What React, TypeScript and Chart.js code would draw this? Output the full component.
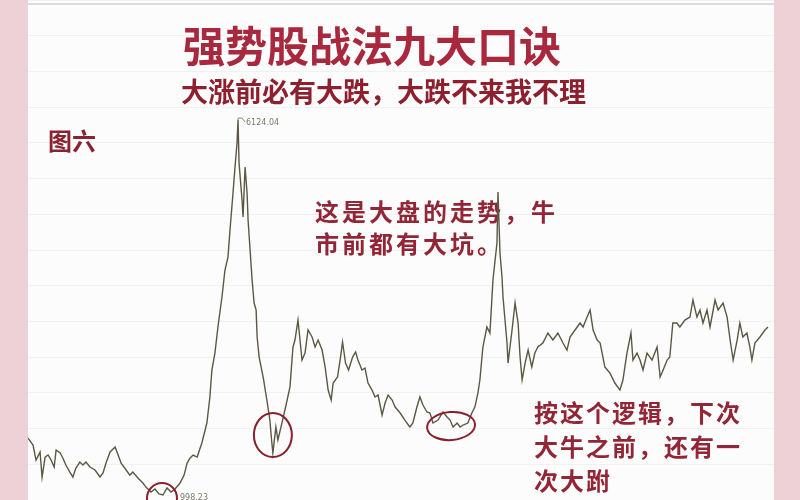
import React, { useEffect, useRef } from "react";
import { Chart, registerables } from "chart.js";

Chart.register(...registerables);

// Shanghai Composite index (decimal year, index level)
const years = [
  2001.52, 2001.67, 2001.76, 2001.88, 2001.94, 2002.03, 2002.12, 2002.21, 2002.30, 2002.36,
  2002.48, 2002.56, 2002.65, 2002.77, 2002.86, 2002.95, 2003.07, 2003.16, 2003.25, 2003.37,
  2003.52, 2003.67, 2003.76, 2003.85, 2003.97, 2004.12, 2004.21, 2004.30, 2004.45, 2004.56,
  2004.65, 2004.80, 2004.95, 2005.04, 2005.19, 2005.31, 2005.43, 2005.55, 2005.67, 2005.79,
  2005.91, 2006.06, 2006.18, 2006.27, 2006.36, 2006.45, 2006.57, 2006.71, 2006.86, 2006.95,
  2007.01, 2007.10, 2007.19, 2007.31, 2007.40, 2007.49, 2007.55, 2007.64, 2007.70, 2007.76,
  2007.79, 2007.82, 2007.91, 2007.94, 2008.00, 2008.06, 2008.09, 2008.15, 2008.21, 2008.27,
  2008.33, 2008.36, 2008.42, 2008.54, 2008.65, 2008.74, 2008.80, 2008.83, 2008.92, 2008.98,
  2009.10, 2009.19, 2009.34, 2009.43, 2009.49, 2009.58, 2009.70, 2009.79, 2009.88, 2010.00,
  2010.09, 2010.18, 2010.30, 2010.39, 2010.48, 2010.57, 2010.63, 2010.76, 2010.85, 2010.91,
  2011.00, 2011.09, 2011.21, 2011.30, 2011.37, 2011.49, 2011.58, 2011.67, 2011.79, 2011.88,
  2011.97, 2012.09, 2012.18, 2012.27, 2012.39, 2012.48, 2012.63, 2012.77, 2012.92, 2013.01,
  2013.13, 2013.22, 2013.31, 2013.43, 2013.52, 2013.61, 2013.76, 2013.91, 2014.03, 2014.12,
  2014.21, 2014.33, 2014.42, 2014.51, 2014.65, 2014.77, 2014.86, 2014.95, 2015.01, 2015.10,
  2015.22, 2015.31, 2015.40, 2015.52, 2015.55, 2015.61, 2015.67, 2015.70, 2015.76, 2015.82,
  2015.85, 2015.97, 2016.06, 2016.15, 2016.21, 2016.27, 2016.36, 2016.45, 2016.56, 2016.65,
  2016.74, 2016.89, 2017.04, 2017.19, 2017.34, 2017.49, 2017.61, 2017.70, 2017.85, 2018.00,
  2018.09, 2018.21, 2018.30, 2018.39, 2018.51, 2018.60, 2018.74, 2018.89, 2019.04, 2019.19,
  2019.28, 2019.40, 2019.52, 2019.58, 2019.70, 2019.79, 2019.88, 2020.00, 2020.15, 2020.30,
  2020.39, 2020.48, 2020.60, 2020.68, 2020.77, 2020.89, 2020.98, 2021.13, 2021.28, 2021.37,
  2021.49, 2021.58, 2021.67, 2021.79, 2021.88, 2022.03, 2022.12, 2022.27, 2022.39, 2022.48,
  2022.57, 2022.69, 2022.77, 2022.86, 2022.98, 2023.07, 2023.13, 2023.22, 2023.37, 2023.52,
  2023.61,
];

const closes = [
  1777, 1682, 1476, 1586, 1244, 1517, 1545, 1476, 1381, 1613,
  1572, 1504, 1408, 1312, 1244, 1367, 1449, 1408, 1449, 1381,
  1340, 1244, 1299, 1435, 1586, 1654, 1545, 1435, 1340, 1271,
  1312, 1230, 1162, 1107, 1039, 1080, 1012, 998, 1094, 1039,
  1080, 1162, 1271, 1435, 1504, 1545, 1517, 1709, 1982, 2338,
  2707, 2939, 3295, 3705, 4074, 4251, 4621, 5126, 5482, 5810,
  6124, 5536, 5031, 4798, 5482, 5126, 4757, 4347, 3937, 3623,
  3527, 3158, 2884, 2611, 2297, 2023, 1709, 1572, 1928, 1750,
  1982, 2160, 2474, 3021, 3117, 3390, 2843, 2939, 3254, 3158,
  3021, 3117, 2980, 2748, 2433, 2297, 2529, 2611, 2884, 3090,
  2802, 2707, 2884, 2953, 2843, 2707, 2734, 2529, 2433, 2338,
  2365, 2092, 2256, 2365, 2297, 2201, 2119, 2023, 1928, 1982,
  2201, 2338, 2228, 2133, 2119, 1982, 2023, 2133, 2064, 2023,
  1928, 1982, 1928, 1955, 1982, 2119, 2201, 2392, 2570, 3021,
  3295, 3213, 3937, 4443, 5140, 4306, 3978, 3705, 3390, 3076,
  2802, 3254, 3623, 3349, 2884, 2570, 2802, 2980, 2748, 2939,
  3021, 3076, 3213, 3117, 3213, 3076, 2980, 3158, 3254, 3349,
  3295, 3431, 3527, 3254, 3117, 3076, 2748, 2666, 2529, 2433,
  2570, 2939, 3213, 2843, 2939, 2843, 2707, 2939, 2843, 3021,
  2611, 2707, 2843, 2884, 3349, 3349, 3295, 3390, 3431, 3664,
  3431, 3527, 3349, 3527, 3295, 3664, 3527, 3623, 3431, 3117,
  2843, 3117, 3349, 3158, 3213, 3021, 2843, 3076, 3158, 3254,
  3295,
];

// circled bottoms: [year, level]
const circledYears = [2005.52, 2008.83, 2014.15];
const circledLevels = [957, 1818, 1941];

const peakYear = 2007.79;
const peakLabel = "6124.04";
const lowYear = 2005.55;
const lowLabel = "998.23";

const titleText = "强势股战法九大口诀";
const subtitleText = "大涨前必有大跌，大跌不来我不理";
const figureText = "图六";
const noteA = ["这是大盘的走势，牛", "市前都有大坑。"];
const noteB = ["按这个逻辑，下次", "大牛之前，还有一", "次大跗"];

const CJK = '"Noto Sans CJK SC", "Noto Sans", sans-serif';

const decor = {
  id: "decor",
  beforeDraw(chart: any) {
    const ctx = chart.ctx;
    const w = chart.width;
    const h = chart.height;
    ctx.save();
    ctx.fillStyle = "#eed0d7";
    ctx.fillRect(0, 0, w, h);
    ctx.fillStyle = "#fdfcfc";
    ctx.fillRect(28, 0, 746, h);
    ctx.strokeStyle = "rgba(150,140,140,0.3)";
    ctx.lineWidth = 2;
    ctx.beginPath();
    ctx.moveTo(28, 4);
    ctx.lineTo(774, 4);
    ctx.stroke();
    ctx.restore();
  },
  beforeDatasetsDraw(chart: any) {
    const ctx = chart.ctx;
    ctx.save();
    ctx.textBaseline = "middle";
    // title
    ctx.fillStyle = "#a8283d";
    ctx.font = `bold 42px ${CJK}`;
    ctx.textAlign = "center";
    ctx.fillText(titleText, 372, 46);
    // subtitle
    ctx.fillStyle = "#8e1f2e";
    ctx.font = `bold 27px ${CJK}`;
    ctx.textAlign = "left";
    ctx.fillText(subtitleText, 181, 92);
    // figure tag
    ctx.font = `bold 24px ${CJK}`;
    ctx.fillStyle = "#8a2232";
    ctx.fillText(figureText, 48, 141);
    // notes
    ctx.font = `bold 24px ${CJK}`;
    (ctx as any).letterSpacing = "3px";
    ctx.fillStyle = "#922536";
    noteA.forEach((t, i) => ctx.fillText(t, 315, 212 + i * 32));
    (ctx as any).letterSpacing = "2px";
    noteB.forEach((t, i) => ctx.fillText(t, 534, 413 + i * 34));
    (ctx as any).letterSpacing = "0px";
    ctx.restore();
  },
  afterDatasetsDraw(chart: any) {
    const ctx = chart.ctx;
    const xs = chart.scales.x;
    const ys = chart.scales.y;
    ctx.save();
    // circles around bottoms
    ctx.strokeStyle = "#8a1f2e";
    ctx.lineWidth = 2;
    const radii = [[15, 15], [19, 22], [24, 14]];
    circledYears.forEach((yr, i) => {
      const cx = xs.getPixelForValue(yr);
      const cy = ys.getPixelForValue(circledLevels[i]);
      ctx.beginPath();
      ctx.ellipse(cx, cy, radii[i][0], radii[i][1], i === 2 ? -0.08 : 0, 0, Math.PI * 2);
      ctx.stroke();
    });
    // peak label
    const pi = years.indexOf(peakYear);
    const px = xs.getPixelForValue(peakYear);
    const py = ys.getPixelForValue(closes[pi]);
    ctx.strokeStyle = "#8a8a7a";
    ctx.lineWidth = 1;
    ctx.beginPath();
    ctx.moveTo(px, py + 2);
    ctx.lineTo(px, py - 2);
    ctx.lineTo(px + 4, py - 2);
    ctx.lineTo(px + 7, py + 2);
    ctx.stroke();
    ctx.fillStyle = "#7a7a6e";
    ctx.font = "8px 'DejaVu Sans', sans-serif";
    ctx.textBaseline = "middle";
    ctx.textAlign = "left";
    ctx.fillText(peakLabel, px + 8, py + 3);
    // low label
    const lx = xs.getPixelForValue(lowYear);
    ctx.fillText(lowLabel, lx + 17, 498);
    ctx.restore();
  },
};

export default function App() {
  const ref = useRef<HTMLCanvasElement | null>(null);
  useEffect(() => {
    if (!ref.current) return;
    const chart = new Chart(ref.current, {
      type: "line",
      data: {
        datasets: [
          {
            label: "上证指数",
            data: years.map((x, i) => ({ x, y: closes[i] })),
            borderColor: "#5a5842",
            borderWidth: 1.4,
            pointRadius: 0,
            tension: 0,
            fill: false,
          },
        ],
      },
      options: {
        responsive: false,
        animation: false,
        devicePixelRatio: 1,
        layout: { padding: { left: 28, right: 26, top: 0, bottom: 0 } },
        plugins: {
          legend: { display: false },
          tooltip: { enabled: false },
          title: { display: false },
        },
        scales: {
          x: { type: "linear", min: 2001.52, max: 2023.79, display: false },
          y: {
            min: 930,
            max: 7765,
            ticks: { display: false, stepSize: 500 },
            border: { display: false },
            grid: { color: "rgba(0,0,0,0.045)", drawTicks: false, tickLength: 0 },
            afterFit: (s: any) => {
              s.width = 0;
            },
          },
        },
      },
      plugins: [decor],
    });
    return () => chart.destroy();
  }, []);
  return (
    <div style={{ position: "absolute", left: 0, top: 0, width: 800, height: 500 }}>
      <canvas ref={ref} width={800} height={500} style={{ width: 800, height: 500, display: "block" }} />
    </div>
  );
}
